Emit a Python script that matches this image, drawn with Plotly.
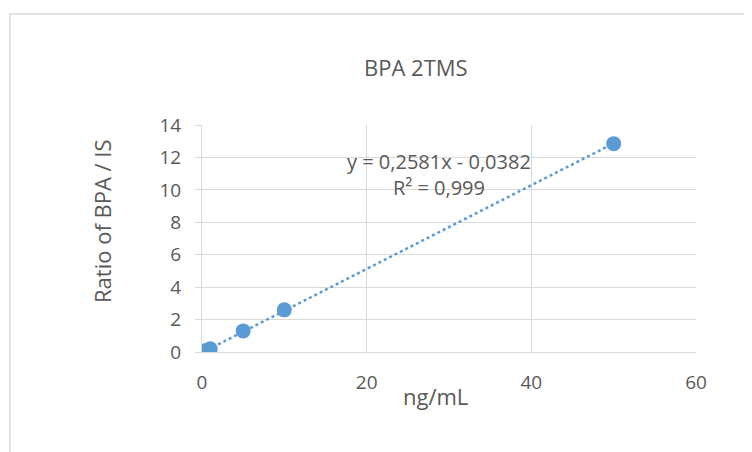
import plotly.graph_objects as go

conc = [0.1, 0.5, 1, 5, 10, 50]
ratio = [0.02, 0.1, 0.2, 1.3, 2.6, 12.85]
slope = 0.2581
intercept = -0.0382
r2_text = "R² = 0,999"
eq_text = "y = 0,2581x - 0,0382"
title = "BPA 2TMS"

blue = "#5B9BD5"
grey_text = "#595959"
font_family = "Open Sans"

trend_x = [0, max(conc)]
trend_y = [slope * v + intercept for v in trend_x]

fig = go.Figure()
fig.add_trace(go.Scatter(x=trend_x, y=trend_y, mode="lines",
                         line=dict(color=blue, width=2.5, dash="dot"),
                         hoverinfo="skip", showlegend=False))
fig.add_trace(go.Scatter(x=conc, y=ratio, mode="markers",
                         marker=dict(color=blue, size=15),
                         showlegend=False))

PW, PH = 494, 227
L, T = 202, 124

def px(x):
    return (x - L) / PW

def py(y):
    return (T + PH - y) / PH

fig.update_layout(
    width=752, height=452,
    margin=dict(l=194, r=64, t=117, b=108),
    paper_bgcolor="white", plot_bgcolor="white",
    font=dict(family=font_family, color=grey_text, size=18),
    showlegend=False,
    xaxis=dict(range=[0, 60], dtick=20, showgrid=True, gridcolor="#D9D9D9",
               gridwidth=1, zeroline=False, showline=True, linecolor="#D9D9D9",
               ticks="", ticklabelstandoff=13, tickfont=dict(size=19)),
    yaxis=dict(range=[0, 14], dtick=2, showgrid=True, gridcolor="#D9D9D9",
               gridwidth=1, zeroline=False, showline=True, linecolor="#D9D9D9",
               ticks="outside", ticklen=6, tickcolor="#D9D9D9",
               ticklabelstandoff=10, tickfont=dict(size=19)),
)

common = dict(xref="paper", yref="paper", showarrow=False,
              xanchor="center", yanchor="middle")
fig.add_annotation(text=title, x=px(416), y=py(66), font=dict(size=22), **common)
fig.add_annotation(text="Ratio of BPA / IS", x=px(102), y=py(220),
                   textangle=-90, font=dict(size=22), **common)
fig.add_annotation(text="ng/mL", x=px(435), y=py(395), font=dict(size=22), **common)
fig.add_annotation(text=eq_text + "<br>" + r2_text, x=px(439), y=py(173),
                   font=dict(size=20), align="center", **common)

fig.add_shape(type="rect", xref="paper", yref="paper",
              x0=px(10), x1=px(780), y0=py(480), y1=py(13),
              line=dict(color="#D9D9D9", width=1.5), layer="below")

fig.write_html("out.html")
